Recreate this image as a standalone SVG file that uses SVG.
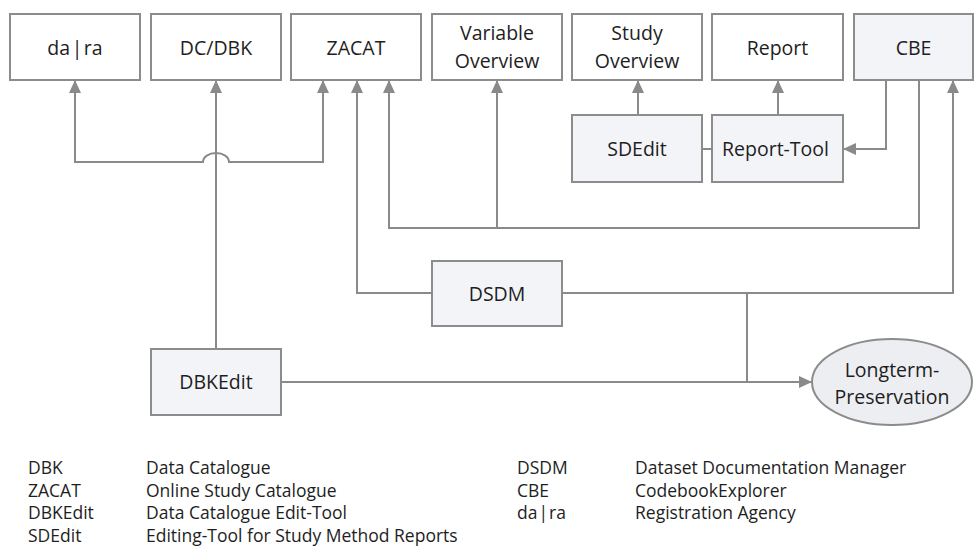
<svg xmlns="http://www.w3.org/2000/svg" width="975" height="548" viewBox="0 0 975 548">
<style>
.box{fill:#ffffff;stroke:#8c8c8c;stroke-width:2}
.tool{fill:#f3f4f8;stroke:#8c8c8c;stroke-width:2}
.lbl{font-family:"Open Sans","Noto Sans",sans-serif;font-size:19.5px;fill:#1e1e1e;text-anchor:middle}
.leg{font-family:"Open Sans","Noto Sans",sans-serif;font-size:17.5px;fill:#1e1e1e}
.con{fill:none;stroke:#8a8a8a;stroke-width:2}
</style>
<defs>
<marker id="ah" markerUnits="userSpaceOnUse" viewBox="0 0 13 12" refX="13" refY="6" markerWidth="13" markerHeight="12" orient="auto-start-reverse">
<path d="M0,0 L13,6 L0,12 z" fill="#8a8a8a"/>
</marker>
</defs>
<rect width="975" height="548" fill="#ffffff"/>
<g id="connectors">
<path class="con" d="M216,349 L216,80" marker-end="url(#ah)"/>
<path class="con" d="M75,80 L75,162 L203,162 A13,9 0 0 1 229,162 L323,162 L323,80" marker-start="url(#ah)" marker-end="url(#ah)"/>
<path class="con" d="M432,293 L357,293 L357,80" marker-end="url(#ah)"/>
<path class="con" d="M919,80 L919,228 L389,228 L389,80" marker-end="url(#ah)"/>
<path class="con" d="M497,228 L497,80" marker-end="url(#ah)"/>
<path class="con" d="M638,115 L638,80" marker-end="url(#ah)"/>
<path class="con" d="M778,115 L778,80" marker-end="url(#ah)"/>
<path class="con" d="M702,149 L712,149"/>
<path class="con" d="M886,80 L886,149 L843,149" marker-end="url(#ah)"/>
<path class="con" d="M562,293 L953,293 L953,80" marker-end="url(#ah)"/>
<path class="con" d="M747,293 L747,382"/>
<path class="con" d="M281,382 L812,382" marker-end="url(#ah)"/>
</g>
<g id="dara"><rect class="box" x="10" y="14" width="130" height="66"/><text class="lbl" x="75" y="55">da<tspan dx="1.500">|</tspan><tspan dx="1.500">ra</tspan></text></g>
<g id="dcdbk"><rect class="box" x="151" y="14" width="130" height="66"/><text class="lbl" x="216" y="55">DC/DBK</text></g>
<g id="zacat"><rect class="box" x="291" y="14" width="130" height="66"/><text class="lbl" x="356" y="55">ZACAT</text></g>
<g id="variable-overview"><rect class="box" x="432" y="14" width="130" height="66"/><text class="lbl" x="497" y="40">Variable</text><text class="lbl" x="497" y="68">Overview</text></g>
<g id="study-overview"><rect class="box" x="572" y="14" width="130" height="66"/><text class="lbl" x="637" y="40">Study</text><text class="lbl" x="637" y="68">Overview</text></g>
<g id="report"><rect class="box" x="712" y="14" width="131" height="66"/><text class="lbl" x="777.500" y="55">Report</text></g>
<g id="cbe"><rect class="tool" x="854" y="14" width="119" height="66"/><text class="lbl" x="913.500" y="55">CBE</text></g>
<g id="sdedit"><rect class="tool" x="572" y="115" width="130" height="67"/><text class="lbl" x="637" y="156">SDEdit</text></g>
<g id="report-tool"><rect class="tool" x="712" y="115" width="131" height="67"/><text class="lbl" x="775.500" y="156">Report-Tool</text></g>
<g id="dsdm"><rect class="tool" x="432" y="261" width="130" height="65"/><text class="lbl" x="497" y="301">DSDM</text></g>
<g id="dbkedit"><rect class="tool" x="151" y="349" width="130" height="66"/><text class="lbl" x="216" y="389">DBKEdit</text></g>
<g id="longterm-preservation"><ellipse cx="892" cy="382" rx="80" ry="43" fill="#eceef2" stroke="#8c8c8c" stroke-width="2"/><text class="lbl" x="892" y="377">Longterm-</text><text class="lbl" x="892" y="404">Preservation</text></g>
<g id="legend">
<text class="leg" x="28" y="474">DBK</text><text class="leg" x="146" y="474">Data Catalogue</text>
<text class="leg" x="28" y="496.500">ZACAT</text><text class="leg" x="146" y="496.500">Online Study Catalogue</text>
<text class="leg" x="28" y="519">DBKEdit</text><text class="leg" x="146" y="519">Data Catalogue Edit-Tool</text>
<text class="leg" x="28" y="541.500">SDEdit</text><text class="leg" x="146" y="541.500">Editing-Tool for Study Method Reports</text>
<text class="leg" x="517" y="474">DSDM</text><text class="leg" x="635" y="474">Dataset Documentation Manager</text>
<text class="leg" x="517" y="496.500">CBE</text><text class="leg" x="635" y="496.500">CodebookExplorer</text>
<text class="leg" x="517" y="519">da<tspan dx="1">|</tspan><tspan dx="1">ra</tspan></text><text class="leg" x="635" y="519">Registration Agency</text>
</g>
</svg>
